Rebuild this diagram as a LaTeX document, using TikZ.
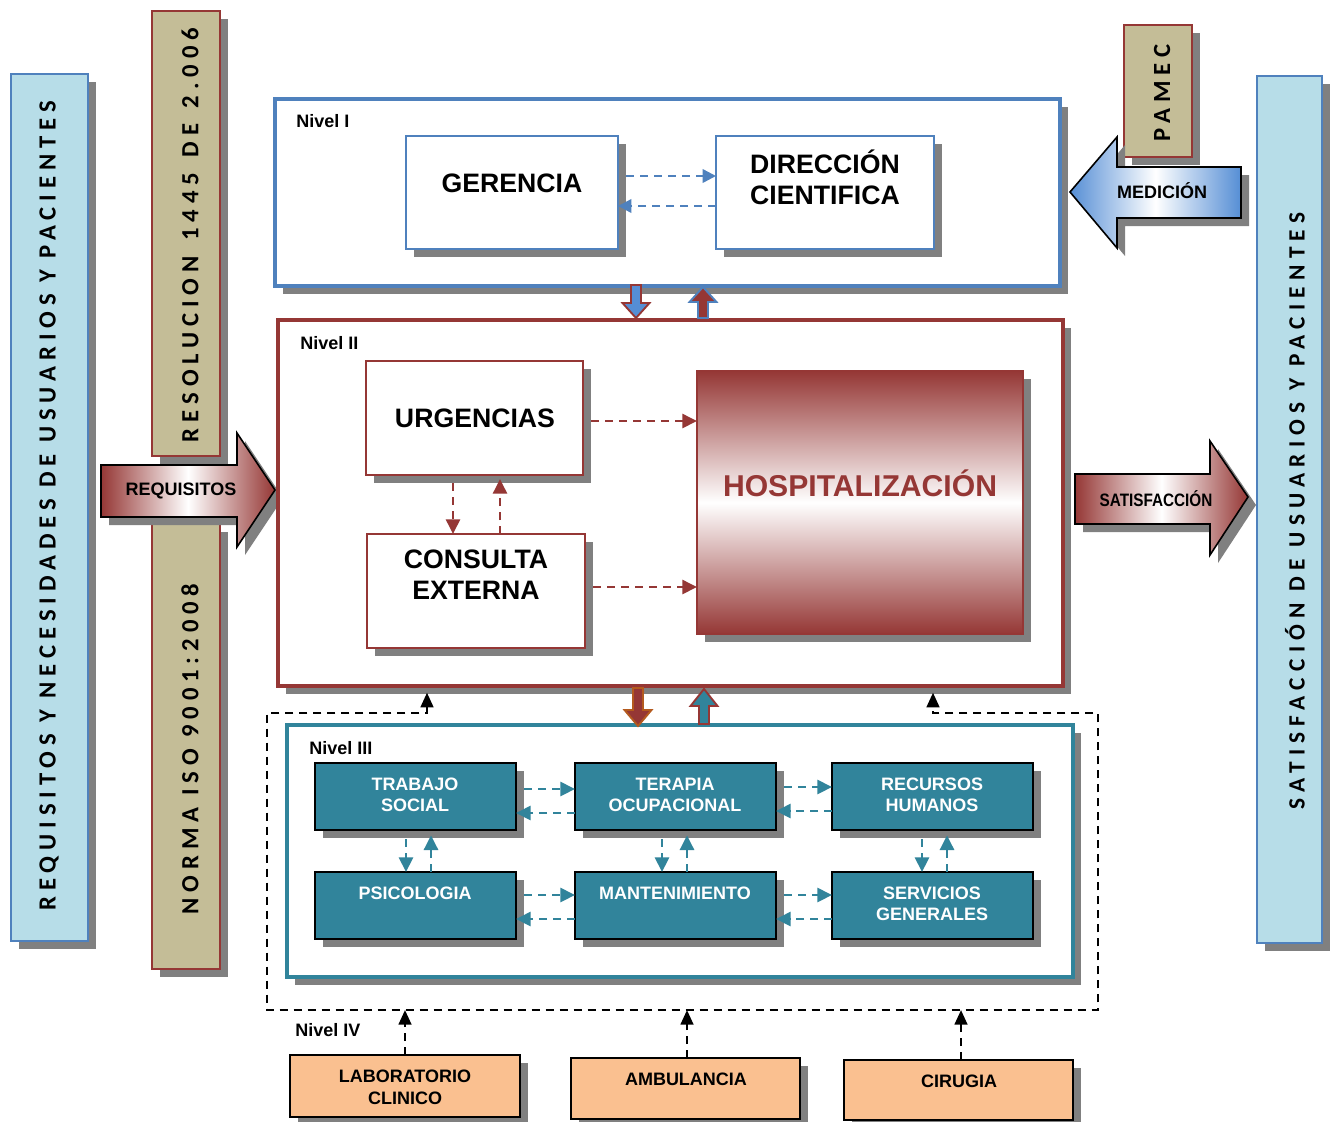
\documentclass[tikz,border=0pt]{standalone}
\usepackage{fontspec}
\usepackage{graphicx}
\setmainfont{Liberation Sans}
\newfontfamily\vfont[LetterSpace=24]{Carlito}
\newfontfamily\vfontr[LetterSpace=27]{Carlito}
\usetikzlibrary{arrows.meta,shadows}
\definecolor{dblue}{HTML}{4F81BD}
\definecolor{mblue}{HTML}{558ED5}
\definecolor{lblue}{HTML}{B7DDE8}
\definecolor{tanc}{HTML}{C4BD97}
\definecolor{dred}{HTML}{953735}
\definecolor{tealc}{HTML}{31849B}
\definecolor{peach}{HTML}{FAC090}
\definecolor{shgray}{HTML}{808080}
\definecolor{brownc}{HTML}{B45A1E}
\newcommand{\pbox}[6]{\node[rbox,#1,minimum width={(#4-(#2))*0.75pt},minimum height={(#5-(#3))*0.75pt}] (#6) at ({(#2+#4)/2},{(#3+#5)/2}) {};}
\newcommand{\blockarrow}[5]{\draw[#5] ({#1-5},#2) -- ({#1+5},#2) -- ({#1+5},{#3-(#4)}) -- ({#1+13.5},{#3-(#4)}) -- (#1,#3) -- ({#1-13.5},{#3-(#4)}) -- ({#1-5},{#3-(#4)}) -- cycle;}
\begin{document}
\begin{tikzpicture}[x=0.75pt,y=-0.75pt,
  shd/.style={general shadow={fill=shgray,shadow xshift=6pt,shadow yshift=-6pt}},
  rbox/.style={rectangle,inner sep=0pt,outer sep=0pt},
  lbl/.style={inner sep=0pt,align=center,font=\bfseries\fontsize{13.5}{15.75}\selectfont},
  big/.style={inner sep=0pt,align=center,font=\bfseries\fontsize{20}{23.25}\selectfont},
  vtxt/.style={rotate=90,inner sep=0pt,font=\vfont\bfseries\fontsize{18.5}{20}\selectfont},
  tip/.style={-{Triangle[length=11pt,width=10.5pt]}},
  dashb/.style={dblue,line width=1.8pt,dash pattern=on 6pt off 4.5pt,-{Triangle[length=10pt,width=10pt]}},
  dashr/.style={dred,line width=1.9pt,dash pattern=on 6pt off 4.5pt,tip},
  dasht/.style={tealc,line width=2.1pt,dash pattern=on 6pt off 4.5pt,tip},
  dashk/.style={black,line width=1.9pt,dash pattern=on 6pt off 4.5pt,-{Triangle[length=11pt,width=9.5pt]}},
  tbox/.style={shd,fill=tealc,draw=black,line width=1.7pt},
  obox/.style={shd,fill=peach,draw=black,line width=1.4pt},
  wlbl/.style={lbl,text=white}]
\useasboundingbox (0,0) rectangle (1334,1121);
\fill[white] (0,0) rectangle (1334,1121);

% side bars
\pbox{shd,draw=dblue,line width=1.6pt,fill=lblue}{11}{74}{88}{941}{lbar}
\pbox{shd,draw=dred,line width=1.5pt,fill=tanc}{152}{11}{220}{456}{res}
\pbox{shd,draw=dred,line width=1.5pt,fill=tanc}{152}{524}{220}{969}{iso}
\pbox{shd,draw=dred,line width=1.5pt,fill=tanc}{1124}{25}{1192}{157}{pamec}
\pbox{shd,draw=dblue,line width=1.6pt,fill=lblue}{1257}{76}{1322}{943}{rbar}
\node[vtxt] (lbarT) at (49,506) {REQUISITOS Y NECESIDADES DE USUARIOS Y PACIENTES};
\node[vtxt] (resT) at (190,235) {RESOLUCION\ \,1445\ \,DE\ \,2.006};
\node[vtxt] (isoT) at (190,749) {NORMA ISO 9001:2008};
\node[vtxt] (pamecT) at (1162,93) {PAMEC};
\node[rotate=90,inner sep=0pt,font=\vfontr\bfseries\fontsize{17.5}{19}\selectfont] (rbarT) at (1295,511) {SATISFACCIÓN DE USUARIOS Y PACIENTES};

% big arrows
\draw[shd,black,line width=1.2pt,left color=dred,right color=dred,middle color=white]
  (101,465) -- (237,465) -- (237,433) -- (275,490) -- (237,547) -- (237,517) -- (101,517) -- cycle;
\node[lbl] (reqT) at (181,491) {REQUISITOS};
\draw[shd,black,line width=1.2pt,left color=dred,right color=dred,middle color=white]
  (1075,474) -- (1210,474) -- (1210,441) -- (1248,497) -- (1210,555) -- (1210,524) -- (1075,524) -- cycle;
\node[lbl] (satT) at (1156,499) {\scalebox{0.85}[1]{SATISFACCIÓN}};
\draw[shd,black,line width=1.2pt,left color=mblue,right color=mblue,middle color=white]
  (1241,167) -- (1117,167) -- (1117,137) -- (1070,192) -- (1117,248) -- (1117,218) -- (1241,218) -- cycle;
\node[lbl] (medT) at (1162,191) {MEDICIÓN};

% Nivel I
\pbox{shd,draw=dblue,line width=2.8pt,fill=white}{275}{99}{1060}{286}{n1}
\node[lbl,anchor=west] (n1T) at (296,121) {Nivel I};
\pbox{shd,draw=dblue,line width=1.2pt,fill=white}{406}{136}{618}{249}{ger}
\pbox{shd,draw=dblue,line width=1.2pt,fill=white}{716}{136}{934}{249}{dir}
\node[big] (gerT) at (512,183) {GERENCIA};
\node[big] (dirT) at (825,177) {DIRECCIÓN\\CIENTIFICA};
\draw[dashb,shorten <=6pt] (ger.east |- 0,176) -- (dir.west |- 0,176);
\draw[dashb] (dir.west |- 0,206) -- (ger.east |- 0,206);

% Nivel II
\pbox{shd,draw=dred,line width=2.8pt,fill=white}{278}{320}{1063}{686}{n2}
\node[lbl,anchor=west] (n2T) at (300,343) {Nivel II};
\pbox{shd,draw=dred,line width=1.2pt,fill=white}{366}{361}{583}{475}{urg}
\pbox{shd,draw=dred,line width=1.2pt,fill=white}{367}{534}{585}{648}{con}
\pbox{shd,draw=dred,line width=1.2pt,top color=dred,bottom color=dred,middle color=white}{697}{371}{1023}{634}{hosp}
\node[big] (urgT) at (475,418) {URGENCIAS};
\node[big] (conT) at (476,575) {CONSULTA\\EXTERNA};
\node[inner sep=0pt,font=\bfseries\fontsize{22.6}{26}\selectfont,text=dred] (hospT) at (860,483) {HOSPITALIZACIÓN};
\draw[dashr,shorten <=6pt] (urg.east |- 0,421) -- (hosp.west |- 0,421);
\draw[dashr,shorten <=6pt] (con.east |- 0,587) -- (hosp.west |- 0,587);
\draw[dashr,shorten <=6pt] (urg.south -| 453,0) -- (con.north -| 453,0);
\draw[dashr,shorten >=3pt] (con.north -| 500,0) -- (urg.south -| 500,0);

% block arrows between levels
\blockarrow{636}{285}{318}{15}{fill=mblue,draw=dred,line width=1.4pt}
\blockarrow{703}{318}{287}{-15}{fill=dred,draw=dblue,line width=1.4pt}

% outer dashed frame
\draw[black,line width=1.9pt,dash pattern=on 6pt off 4.5pt,
  {Triangle[length=11pt,width=9.5pt]}-{Triangle[length=11pt,width=9.5pt]},shorten <=5pt,shorten >=5pt]
  (n2.south -| 427,0) -- (427,713) -- (267,713) -- (267,1010) -- (1098,1010) -- (1098,713) -- (933,713) -- (n2.south -| 933,0);

% Nivel III
\pbox{shd,draw=tealc,line width=2.8pt,fill=white}{287}{725}{1073}{977}{n3}
\node[lbl,anchor=west] (n3T) at (309,748) {Nivel III};
\blockarrow{638}{688}{726}{16}{fill=dred,draw=brownc,line width=1.4pt}
\blockarrow{704}{724}{689}{-17}{fill=tealc,draw=dred,line width=1.4pt}
\pbox{tbox}{315}{763}{516}{830}{ts}
\pbox{tbox}{575}{763}{776}{830}{to}
\pbox{tbox}{832}{763}{1033}{830}{rh}
\pbox{tbox}{315}{872}{516}{939}{ps}
\pbox{tbox}{575}{872}{776}{939}{mt}
\pbox{tbox}{832}{872}{1033}{939}{sg}
\node[wlbl] (tsT) at (415,795) {TRABAJO\\SOCIAL};
\node[wlbl] (toT) at (675,795) {TERAPIA\\OCUPACIONAL};
\node[wlbl] (rhT) at (932,795) {RECURSOS\\HUMANOS};
\node[wlbl] (psT) at (415,893) {PSICOLOGIA};
\node[wlbl] (mtT) at (675,893) {MANTENIMIENTO};
\node[wlbl] (sgT) at (932,904) {SERVICIOS\\GENERALES};
\draw[dasht,shorten <=6pt] (ts.east |- 0,789) -- (to.west |- 0,789);
\draw[dasht] (to.west |- 0,813) -- (ts.east |- 0,813);
\draw[dasht,shorten <=6pt] (to.east |- 0,787) -- (rh.west |- 0,787);
\draw[dasht] (rh.west |- 0,811) -- (to.east |- 0,811);
\draw[dasht,shorten <=6pt] (ps.east |- 0,895) -- (mt.west |- 0,895);
\draw[dasht] (mt.west |- 0,919) -- (ps.east |- 0,919);
\draw[dasht,shorten <=6pt] (mt.east |- 0,895) -- (sg.west |- 0,895);
\draw[dasht] (sg.west |- 0,919) -- (mt.east |- 0,919);
\draw[dasht,shorten <=7pt] (ts.south -| 406,0) -- (ps.north -| 406,0);
\draw[dasht,shorten >=4pt] (ps.north -| 431,0) -- (ts.south -| 431,0);
\draw[dasht,shorten <=7pt] (to.south -| 662,0) -- (mt.north -| 662,0);
\draw[dasht,shorten >=4pt] (mt.north -| 687,0) -- (to.south -| 687,0);
\draw[dasht,shorten <=7pt] (rh.south -| 922,0) -- (sg.north -| 922,0);
\draw[dasht,shorten >=4pt] (sg.north -| 947,0) -- (rh.south -| 947,0);

% Nivel IV
\node[lbl,anchor=west] (n4T) at (295,1030) {Nivel IV};
\pbox{obox}{290}{1055}{520}{1117}{lab}
\pbox{obox}{571}{1058}{800}{1119}{amb}
\pbox{obox}{844}{1060}{1073}{1120}{cir}
\node[lbl,font=\bfseries\fontsize{13.5}{16.5}\selectfont] (labT) at (405,1087) {LABORATORIO\\CLINICO};
\node[lbl] (ambT) at (686,1079) {AMBULANCIA};
\node[lbl] (cirT) at (959,1081) {CIRUGIA};
\draw[dashk] (lab.north -| 405,0) -- (405,1010);
\draw[dashk] (amb.north -| 687,0) -- (687,1010);
\draw[dashk] (cir.north -| 961,0) -- (961,1010);
\end{tikzpicture}
\end{document}
